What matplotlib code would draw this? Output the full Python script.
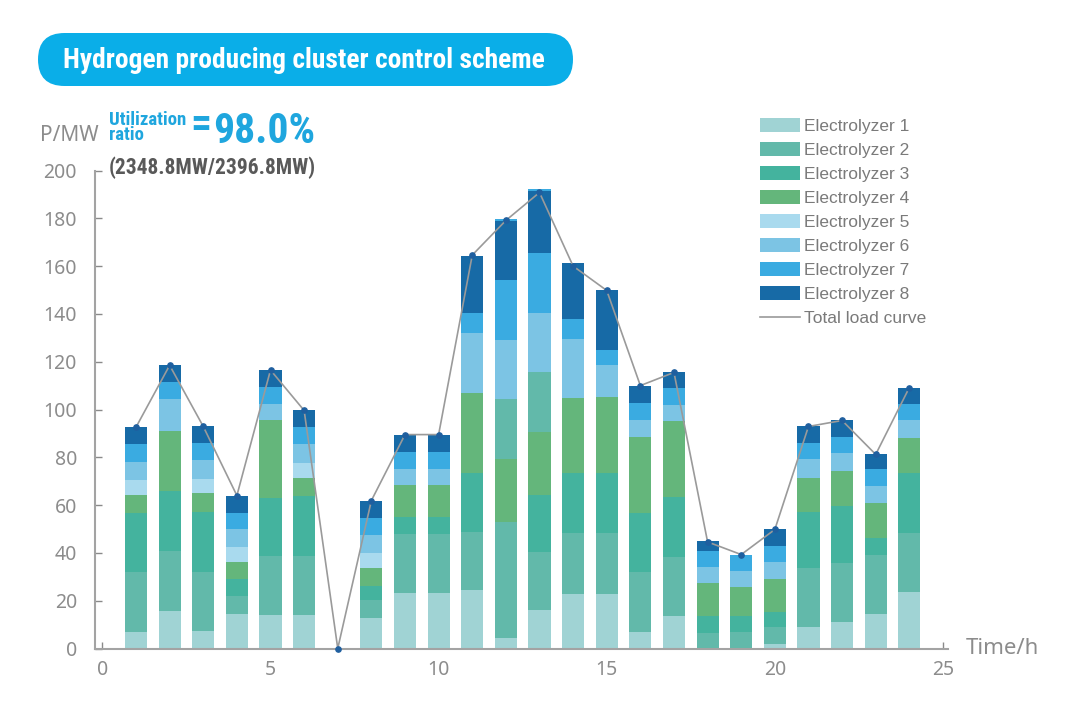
import matplotlib
matplotlib.use("Agg")
import matplotlib.pyplot as plt
import numpy as np
from matplotlib.patches import FancyBboxPatch, Patch
from matplotlib.lines import Line2D
from matplotlib.transforms import IdentityTransform

# ---------------- data ----------------
hours = list(range(1, 25))
e1 = [7.1, 15.6, 7.5, 14.6, 14.2, 14.2, 0, 12.6, 23.4, 23.4, 24.3, 4.6, 15.9, 23.0, 23.0, 7.1, 13.4, 0, 0, 1.7, 8.8, 10.9, 14.6, 23.8]
e2 = [24.7, 25.0, 24.7, 7.2, 24.3, 24.3, 0, 7.5, 24.3, 24.3, 24.6, 48.5, 24.3, 25.5, 25.5, 24.7, 24.7, 6.3, 6.7, 7.1, 24.7, 24.7, 24.7, 24.7]
e3 = [25.1, 25.1, 25.1, 7.1, 24.3, 25.5, 0, 5.9, 7.5, 7.5, 24.7, 0, 24.2, 25.1, 25.1, 24.7, 25.1, 7.1, 6.7, 6.3, 23.8, 24.2, 7.1, 25.1]
e4 = [7.5, 25.1, 7.6, 7.5, 32.6, 7.5, 0, 7.5, 13.4, 13.4, 33.5, 26.0, 26.0, 31.4, 31.8, 31.8, 31.8, 13.8, 12.5, 13.8, 14.2, 14.3, 14.3, 14.3]
e2_upper = [0, 0, 0, 0, 0, 0, 0, 0, 0, 0, 0, 25.1, 25.1, 0, 0, 0, 0, 0, 0, 0, 0, 0, 0, 0]
e5 = [6.3, 0, 6.2, 5.9, 0, 6.3, 0, 6.3, 0, 0, 0, 0, 0, 0, 0, 0, 0, 0, 0, 0, 0, 0, 0, 0]
e6 = [7.5, 13.8, 7.6, 7.5, 6.7, 7.6, 0, 7.5, 6.7, 6.7, 25.1, 24.7, 24.7, 24.7, 13.4, 7.1, 6.7, 7.1, 6.7, 7.1, 7.6, 7.5, 7.1, 7.5]
e7 = [7.3, 7.1, 7.1, 7.1, 7.2, 7.1, 0, 7.1, 7.1, 7.1, 8.0, 25.1, 25.1, 8.0, 6.3, 7.5, 7.5, 6.7, 6.7, 6.7, 6.7, 6.7, 7.1, 6.7]
e8 = [7.1, 7.1, 7.1, 7.1, 7.2, 7.1, 0, 7.5, 7.1, 7.1, 24.2, 24.7, 26.3, 23.4, 25.1, 7.1, 6.3, 3.8, 0, 7.1, 7.1, 7.1, 6.3, 7.1]
e7_cap = [0, 0, 0, 0, 0, 0, 0, 0, 0, 0, 0, 0.8, 0.8, 0, 0, 0, 0, 0, 0, 0, 0, 0, 0, 0]
total_load = [92.6, 118.5, 92.9, 64.0, 116.5, 99.6, 0, 61.9, 89.5, 89.5, 164.6, 179.1, 190.8, 160.0,
              149.8, 110.0, 115.5, 44.6, 39.3, 49.8, 92.9, 95.4, 81.2, 109.2]

labels = ["Electrolyzer 1", "Electrolyzer 2", "Electrolyzer 3", "Electrolyzer 4",
          "Electrolyzer 5", "Electrolyzer 6", "Electrolyzer 7", "Electrolyzer 8"]
colors = ["#a0d3d4", "#62b9aa", "#44b39e", "#64b67b", "#a9daee", "#7cc4e4", "#3aabe1", "#176aa6"]

W, H = 1082, 728
fig = plt.figure(figsize=(W / 100, H / 100), dpi=100)

def px(x, y):
    return x / W, 1 - y / H

ax = fig.add_axes([95 / W, 1 - 648.5 / H, (948 - 95) / W, 478 / H])

stack = [(e1, colors[0]), (e2, colors[1]), (e3, colors[2]), (e4, colors[3]),
         (e2_upper, colors[1]), (e5, colors[4]), (e6, colors[5]), (e7, colors[6]),
         (e8, colors[7]), (e7_cap, colors[6])]
bottom = np.zeros(len(hours))
for vals, c in stack:
    v = np.array(vals, dtype=float)
    ax.bar(hours, v, width=0.66, bottom=bottom, color=c, linewidth=0, zorder=2)
    bottom += v

ax.plot(hours, total_load, color="#9a9a9a", lw=1.2, marker="o", ms=3.8,
        mfc="#1f5f9f", mec="#1f5f9f", zorder=4, clip_on=False)

ax.set_xlim(-0.22, 25.15)
ax.set_ylim(0, 200)
ax.set_xticks([0, 5, 10, 15, 20, 25])
ax.set_yticks(range(0, 201, 20))
for s in ["top", "right"]:
    ax.spines[s].set_visible(False)
for s in ["left", "bottom"]:
    ax.spines[s].set_color("#a3a3a3")
    ax.spines[s].set_linewidth(1.5)
ax.tick_params(direction="in", length=5, width=1, color="#8a8a8a",
               labelcolor="#8c8c8c", labelsize=14)
ax.tick_params(axis="y", pad=13)
ax.tick_params(axis="x", pad=8)
for lab in ax.get_xticklabels() + ax.get_yticklabels():
    lab.set_family(["Noto Sans", "DejaVu Sans"])

# legend
handles = [Patch(facecolor=c, edgecolor="none", label=l) for c, l in zip(colors, labels)]
handles.append(Line2D([], [], color="#9a9a9a", lw=1.2, label="Total load curve"))
leg = fig.legend(handles=handles, loc="upper left", bbox_to_anchor=px(760, 118),
                 frameon=False, prop={"family": ["Liberation Sans", "DejaVu Sans"], "size": 12.5},
                 handlelength=2.3, handleheight=0.9, handletextpad=0.23, labelspacing=0.45,
                 borderaxespad=0, borderpad=0)
for t in leg.get_texts():
    t.set_color("#7a7a7a")

# title pill
pill = FancyBboxPatch((38, H - 86), 535, 53, boxstyle="round,pad=0,rounding_size=26.5",
                      facecolor="#0aaee8", edgecolor="none", transform=IdentityTransform())
fig.patches.append(pill)
narrow = ["Roboto Condensed", "Liberation Sans Narrow", "Roboto", "DejaVu Sans"]
fig.text(*px(304, 60), "Hydrogen producing cluster control scheme", color="white",
         fontsize=19.8, fontweight="bold", family=narrow, ha="center", va="center")

cyan = "#1fa6de"
fig.text(*px(109, 140), "Utilization\nratio", color=cyan, fontsize=13.5, fontweight="bold",
         family=narrow, ha="left", va="baseline", linespacing=0.8)
fig.text(*px(201, 126), "=", color=cyan, fontsize=30, fontweight="bold",
         family=narrow, ha="center", va="center")
fig.text(*px(213, 143), "98.0%", color=cyan, fontsize=30, fontweight="bold",
         family=narrow, ha="left", va="baseline")
fig.text(*px(109, 174), "(2348.8MW/2396.8MW)", color="#595959", fontsize=15.5,
         fontweight="bold", family=narrow, ha="left", va="baseline")
fig.text(*px(40, 141), "P/MW", color="#8c8c8c", fontsize=15,
         family=["Noto Sans", "DejaVu Sans"], ha="left", va="baseline")
fig.text(*px(966, 654), "Time/h", color="#8c8c8c", fontsize=16,
         family=["Noto Sans", "DejaVu Sans"], ha="left", va="baseline")

fig.savefig("out.png", dpi=100, facecolor="white")
